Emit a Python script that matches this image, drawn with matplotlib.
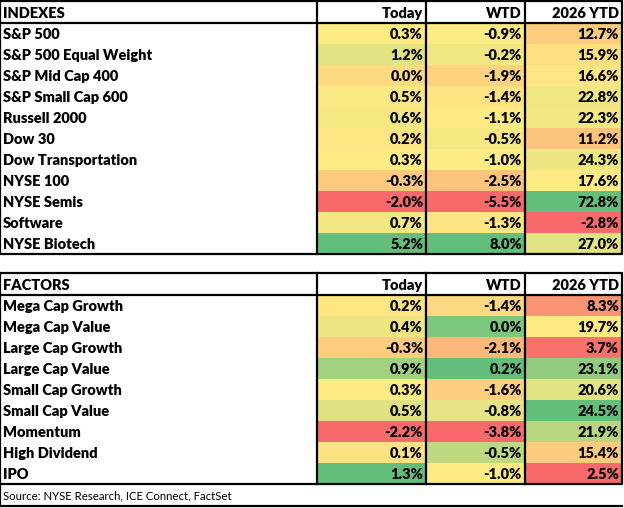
import matplotlib.pyplot as plt
from matplotlib.patches import Rectangle
import numpy as np

# index table
index_names = ["S&P 500", "S&P 500 Equal Weight", "S&P Mid Cap 400", "S&P Small Cap 600",
               "Russell 2000", "Dow 30", "Dow Transportation", "NYSE 100", "NYSE Semis",
               "Software", "NYSE Biotech"]
index_today = [0.3, 1.2, 0.0, 0.5, 0.6, 0.2, 0.3, -0.3, -2.0, 0.7, 5.2]
index_wtd = [-0.9, -0.2, -1.9, -1.4, -1.1, -0.5, -1.0, -2.5, -5.5, -1.3, 8.0]
index_ytd = [12.7, 15.9, 16.6, 22.8, 22.3, 11.2, 24.3, 17.6, 72.8, -2.8, 27.0]

# factor table
factor_names = ["Mega Cap Growth", "Mega Cap Value", "Large Cap Growth", "Large Cap Value",
                "Small Cap Growth", "Small Cap Value", "Momentum", "High Dividend", "IPO"]
factor_today = [0.2, 0.4, -0.3, 0.9, 0.3, 0.5, -2.2, 0.1, 1.3]
factor_wtd = [-1.4, 0.0, -2.1, 0.2, -1.6, -0.8, -3.8, -0.5, -1.0]
factor_ytd = [8.3, 19.7, 3.7, 23.1, 20.6, 24.5, 21.9, 15.4, 2.5]

col_headers = ["Today", "WTD", "2026 YTD"]
source_text = "Source: NYSE Research, ICE Connect, FactSet"

RED = np.array([0xF8, 0x69, 0x6B]) / 255
YEL = np.array([0xFF, 0xEB, 0x84]) / 255
GRN = np.array([0x63, 0xBE, 0x7B]) / 255


def scale_colors(vals):
    # excel style 3 colour scale: min / 50th percentile / max
    v = np.array(vals, dtype=float)
    lo, mid, hi = v.min(), np.percentile(v, 50), v.max()
    out = []
    for x in v:
        if x <= mid:
            t = 0 if mid == lo else (mid - x) / (mid - lo)
            out.append(YEL + (RED - YEL) * t)
        else:
            t = (x - mid) / (hi - mid)
            out.append(YEL + (GRN - YEL) * t)
    return out


FONT = "Lato"
FS = 10.5
WT = "heavy"
LW = 1.6
col_x = [0, 317, 426, 525, 622]
HEAD_H = 22
ROW_H = 21

fig = plt.figure(figsize=(6.24, 5.08), dpi=100)
ax = fig.add_axes([0, 0, 1, 1])
ax.set_xlim(0, 624)
ax.set_ylim(508, 0)
ax.axis("off")


def draw_table(top, title, names, cols):
    n = len(names)
    bottom = top + HEAD_H + n * ROW_H
    # header
    ax.text(3, top + HEAD_H / 2 + 1, title, fontsize=FS, fontweight=WT,
            family=FONT, va="center", ha="left")
    for j, h in enumerate(col_headers):
        ax.text(col_x[j + 2] - 3, top + HEAD_H / 2 + 1, h, fontsize=FS, fontweight=WT,
                family=FONT, va="center", ha="right")
    # cells
    for j, vals in enumerate(cols):
        colors = scale_colors(vals)
        for i, v in enumerate(vals):
            y0 = top + HEAD_H + i * ROW_H
            ax.add_patch(Rectangle((col_x[j + 1], y0), col_x[j + 2] - col_x[j + 1], ROW_H,
                                   facecolor=colors[i], edgecolor="none", zorder=1))
            ax.text(col_x[j + 2] - 3, y0 + ROW_H / 2 + 1, f"{v:.1f}%", fontsize=FS,
                    fontweight=WT, family=FONT, va="center", ha="right", zorder=3)
    for i, nm in enumerate(names):
        y0 = top + HEAD_H + i * ROW_H
        ax.text(3, y0 + ROW_H / 2 + 1, nm, fontsize=FS, fontweight=WT,
                family=FONT, va="center", ha="left", zorder=3)
    # borders
    ax.plot([col_x[0], col_x[-1], col_x[-1], col_x[0], col_x[0]],
            [top, top, bottom, bottom, top], color="black", lw=LW, zorder=4)
    ax.plot([col_x[0], col_x[-1]], [top + HEAD_H, top + HEAD_H], color="black", lw=LW, zorder=4)
    for x in col_x[1:-1]:
        ax.plot([x, x], [top, bottom], color="black", lw=LW, zorder=4)
    return bottom


draw_table(1, "INDEXES", index_names, [index_today, index_wtd, index_ytd])
b2 = draw_table(273, "FACTORS", factor_names, [factor_today, factor_wtd, factor_ytd])

# source row
ax.plot([0, 0, 622], [b2, 506, 506], color="black", lw=LW, zorder=4)
ax.text(3, (b2 + 506) / 2 + 1, source_text, fontsize=8.2, family=FONT,
        va="center", ha="left")

fig.savefig("out.png", dpi=100)
